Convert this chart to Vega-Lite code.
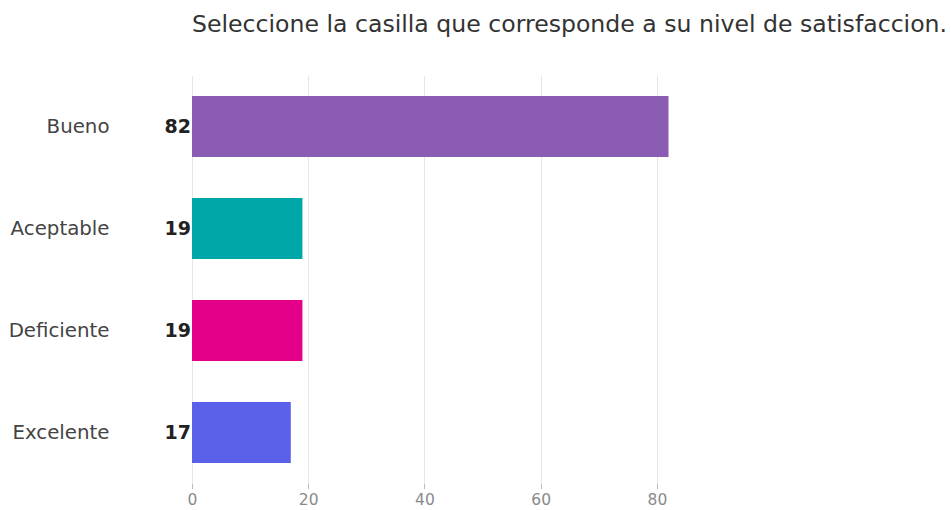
{
  "$schema": "https://vega.github.io/schema/vega-lite/v6.json",
  "width": 523,
  "height": 408,
  "autosize": {"type": "none"},
  "padding": {"left": 192, "top": 75.5, "right": 236, "bottom": 26.5},
  "background": "white",
  "title": {
    "text": "Seleccione la casilla que corresponde a su nivel de satisfaccion.",
    "anchor": "start",
    "frame": "group",
    "font": "DejaVu Sans",
    "fontSize": 23.6,
    "fontWeight": "normal",
    "color": "#333333",
    "offset": 39,
    "limit": 900
  },
  "config": {
    "view": {"stroke": null},
    "font": "DejaVu Sans"
  },
  "data": {
    "values": [
      {"categoria": "Bueno", "valor": 82, "color": "#8A5CB4"},
      {"categoria": "Aceptable", "valor": 19, "color": "#00A7A8"},
      {"categoria": "Deficiente", "valor": 19, "color": "#E5008A"},
      {"categoria": "Excelente", "valor": 17, "color": "#5B60E8"}
    ]
  },
  "encoding": {
    "y": {
      "field": "categoria",
      "type": "nominal",
      "sort": ["Bueno", "Aceptable", "Deficiente", "Excelente"],
      "scale": {"paddingInner": 0.4, "paddingOuter": 0.2},
      "axis": {
        "title": null,
        "domain": false,
        "ticks": false,
        "labelPadding": 83,
        "labelFontSize": 19.8,
        "labelColor": "#444444",
        "labelFont": "DejaVu Sans",
        "labelLimit": 300
      }
    }
  },
  "layer": [
    {
      "mark": {"type": "bar"},
      "encoding": {
        "x": {
          "field": "valor",
          "type": "quantitative",
          "scale": {"domain": [0, 90], "nice": false},
          "axis": {
            "title": null,
            "values": [0, 20, 40, 60, 80],
            "domain": false,
            "grid": true,
            "gridColor": "#e6e6e6",
            "gridWidth": 1,
            "tickColor": "#bbbbbb",
            "tickSize": 5,
            "labelFontSize": 15.5,
            "labelColor": "#8a8a8a",
            "labelPadding": 4,
            "labelFlush": false,
            "labelFont": "DejaVu Sans"
          }
        },
        "color": {"field": "color", "type": "nominal", "scale": null}
      }
    },
    {
      "mark": {
        "type": "text",
        "align": "right",
        "baseline": "middle",
        "dx": -1,
        "fontSize": 19,
        "fontWeight": "bold",
        "color": "#222222",
        "font": "DejaVu Sans"
      },
      "encoding": {
        "x": {"datum": 0, "type": "quantitative"},
        "text": {"field": "valor", "type": "quantitative"}
      }
    }
  ]
}
